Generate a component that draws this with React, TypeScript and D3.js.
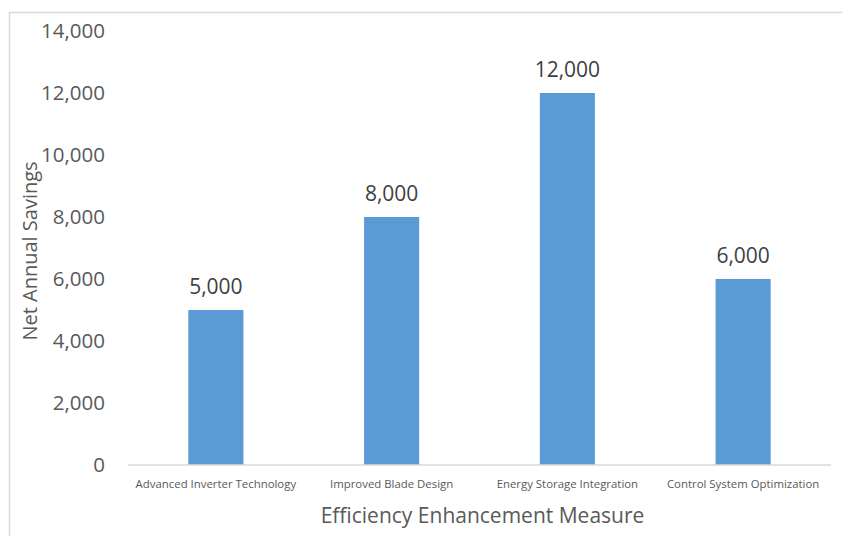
import { useRef, useEffect } from 'react';
import * as d3 from 'd3';

const CATEGORIES = [
  'Advanced Inverter Technology',
  'Improved Blade Design',
  'Energy Storage Integration',
  'Control System Optimization',
];
const SAVINGS = [5000, 8000, 12000, 6000];
const Y_TICKS = [0, 2000, 4000, 6000, 8000, 10000, 12000, 14000];

const WIDTH = 842;
const HEIGHT = 536;
const FONT = "'Open Sans', sans-serif";
const TEXT = '#595959';

export default function App() {
  const svgRef = useRef<SVGSVGElement>(null);

  useEffect(() => {
    const svg = d3.select(svgRef.current);
    svg.selectAll('*').remove();

    const margin = { top: 31, right: 11, bottom: 71, left: 128 };
    const w = WIDTH - margin.left - margin.right;
    const h = HEIGHT - margin.top - margin.bottom;

    // chart border
    svg.append('rect')
      .attr('x', 9.5).attr('y', 12.5)
      .attr('width', WIDTH).attr('height', HEIGHT)
      .attr('fill', '#fff')
      .attr('stroke', '#d9d9d9')
      .attr('stroke-width', 1.5);

    const g = svg.append('g')
      .attr('transform', `translate(${margin.left},${margin.top})`);

    const x = d3.scaleBand().domain(CATEGORIES).range([0, w]);
    const y = d3.scaleLinear().domain([0, 14000]).range([h, 0]);
    const barW = x.bandwidth() / 3.19;
    const fmt = d3.format(',');

    // bars
    g.selectAll('rect.bar')
      .data(CATEGORIES)
      .join('rect')
      .attr('class', 'bar')
      .attr('x', (d) => x(d)! + (x.bandwidth() - barW) / 2)
      .attr('y', (_, i) => y(SAVINGS[i]))
      .attr('width', barW)
      .attr('height', (_, i) => h - y(SAVINGS[i]))
      .attr('fill', '#5b9bd5');

    // data labels
    g.selectAll('text.val')
      .data(CATEGORIES)
      .join('text')
      .attr('class', 'val')
      .attr('x', (d) => x(d)! + x.bandwidth() / 2)
      .attr('y', (_, i) => y(SAVINGS[i]) - 16)
      .attr('text-anchor', 'middle')
      .attr('fill', '#404040')
      .style('font-family', FONT)
      .style('font-size', '21px')
      .text((_, i) => fmt(SAVINGS[i]));

    // baseline
    g.append('line')
      .attr('x1', 0).attr('x2', w)
      .attr('y1', h).attr('y2', h)
      .attr('stroke', '#d9d9d9')
      .attr('stroke-width', 1.5);

    // y tick labels
    g.selectAll('text.ytick')
      .data(Y_TICKS)
      .join('text')
      .attr('class', 'ytick')
      .attr('x', -23)
      .attr('y', (d) => y(d))
      .attr('dy', '0.36em')
      .attr('text-anchor', 'end')
      .attr('fill', TEXT)
      .style('font-family', FONT)
      .style('font-size', '20.5px')
      .text((d) => fmt(d));

    // x category labels
    g.selectAll('text.xtick')
      .data(CATEGORIES)
      .join('text')
      .attr('class', 'xtick')
      .attr('x', (d) => x(d)! + x.bandwidth() / 2)
      .attr('y', h + 23)
      .attr('text-anchor', 'middle')
      .attr('fill', TEXT)
      .style('font-family', FONT)
      .style('font-size', '11.4px')
      .text((d) => d);

    // axis titles
    g.append('text')
      .attr('x', w / 2 + 3)
      .attr('y', h + 58)
      .attr('text-anchor', 'middle')
      .attr('fill', TEXT)
      .style('font-family', FONT)
      .style('font-size', '21px')
      .text('Efficiency Enhancement Measure');

    g.append('text')
      .attr('transform', `translate(${-98},${h / 2 + 3}) rotate(-90)`)
      .attr('dy', '0.35em')
      .attr('text-anchor', 'middle')
      .attr('fill', TEXT)
      .style('font-family', FONT)
      .style('font-size', '20px')
      .text('Net Annual Savings');
  }, []);

  return (
    <svg
      ref={svgRef}
      width={WIDTH}
      height={HEIGHT}
      style={{ position: 'absolute', left: 0, top: 0, background: '#fff' }}
    />
  );
}
